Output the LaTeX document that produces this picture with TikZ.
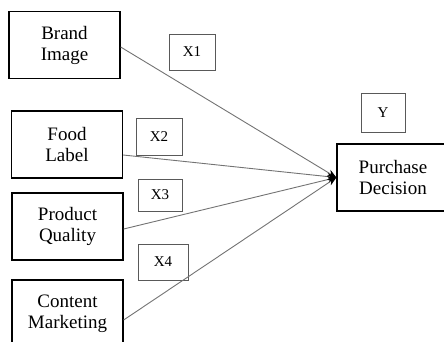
\documentclass[tikz,border=0pt]{standalone}
\usepackage{fontspec}
\setmainfont{Liberation Serif}
\usetikzlibrary{arrows.meta}
\begin{document}
\begin{tikzpicture}[x=1pt,y=-1pt,
  bigbox/.style={draw=black,line width=1.3pt,minimum width=111pt,minimum height=67pt,inner sep=0pt,align=center,font=\fontsize{19}{21}\selectfont},
  lblbox/.style={draw=black!65,line width=0.9pt,inner sep=0pt,font=\fontsize{15}{17}\selectfont},
  link/.style={draw=black!55,line width=0.9pt,-{Stealth[length=9pt,width=7pt,color=black]}}]
\useasboundingbox (0,0) rectangle (444,342);
\clip (0,0) rectangle (444,342);
\node[bigbox] (BI) at (64.5,45) {Brand\\Image};
\node[bigbox] (FL) at (67,144.5) {Food\\Label};
\node[bigbox] (PQ) at (67.5,226.5) {Product\\Quality};
\node[bigbox] (CM) at (67.5,313.5) {Content\\Marketing};
\node[bigbox,minimum width=112pt] (PD) at (393,177.5) {Purchase\\Decision};
\node[lblbox,minimum width=46pt,minimum height=36pt] (X1) at (192,52) {X1};
\node[lblbox,minimum width=46pt,minimum height=37pt] (X2) at (159,136.5) {X2};
\node[lblbox,minimum width=44pt,minimum height=32pt] (X3) at (160,195) {X3};
\node[lblbox,minimum width=50pt,minimum height=36pt] (X4) at (163,262) {X4};
\node[lblbox,minimum width=44pt,minimum height=39pt] (Y) at (383,112.5) {Y};
\draw[link] ([yshift=-2pt]BI.east) -- (PD.west);
\draw[link] ([yshift=-10.5pt]FL.east) -- (PD.west);
\draw[link] ([yshift=-2.5pt]PQ.east) -- (PD.west);
\draw[link] ([yshift=-6.5pt]CM.east) -- (PD.west);
\end{tikzpicture}
\end{document}
